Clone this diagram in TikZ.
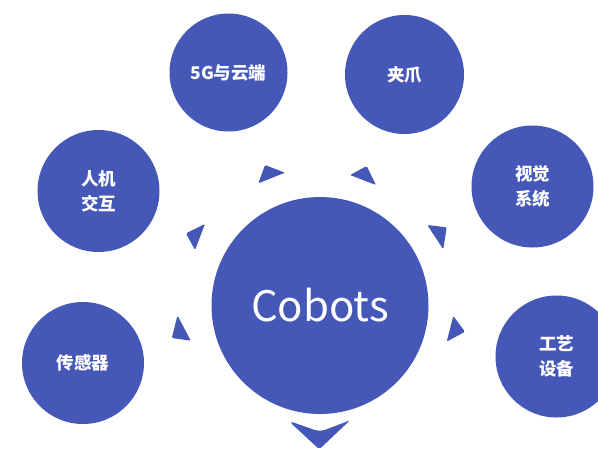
\documentclass[tikz,border=0pt]{standalone}
\usepackage{fontspec}
\setmainfont{Noto Sans CJK SC}
\definecolor{cb}{HTML}{4557B7}
\tikzset{
  bub/.style={circle, fill=cb, inner sep=0pt, minimum size=122pt, text=white,
    font=\fontsize{17.5}{25}\selectfont\bfseries, align=center},
  tri/.style={fill=cb, rounded corners=1.3pt}
}
\begin{document}
\begin{tikzpicture}[x=1pt,y=-1pt]
\useasboundingbox (0,0) rectangle (598,451);
\clip (0,0) rectangle (598,451);
\node[bub, minimum size=217pt, font=\fontsize{42}{50}\selectfont] (cobots) at (320,305.5) {Cobots};
\node[bub, minimum size=118pt] (g5) at (228.5,72.5) {5G与云端};
\node[bub, minimum size=119pt] (jz) at (404.5,74.5) {夹爪};
\node[bub] (rj) at (98.5,191) {人机\\交互};
\node[bub] (sj) at (532.5,186.5) {视觉\\系统};
\node[bub] (cg) at (83,363) {传感器};
\node[bub] (gy) at (556.5,356.5) {工艺\\设备};
% small triangles
\fill[tri] (258.3,183.3) -- (265,165) -- (285,172.7) -- cycle;
\fill[tri] (350,175) -- (366.7,166) -- (376,185) -- cycle;
\fill[tri] (186,233.3) -- (205,224) -- (195,250) -- cycle;
\fill[tri] (177.5,315.5) -- (171.8,338) -- (190.8,340.7) -- cycle;
\fill[tri] (427.3,225) -- (446.7,227.3) -- (443.3,249.3) -- cycle;
\fill[tri] (453.3,316) -- (465,331.7) -- (446.7,341.7) -- cycle;
% chevron
\fill[cb, rounded corners=2pt] (288.3,420.7) -- (319.3,449.3) -- (350,420.3) [rounded corners=6pt] -- (320,431.8) -- cycle;
\end{tikzpicture}
\end{document}
